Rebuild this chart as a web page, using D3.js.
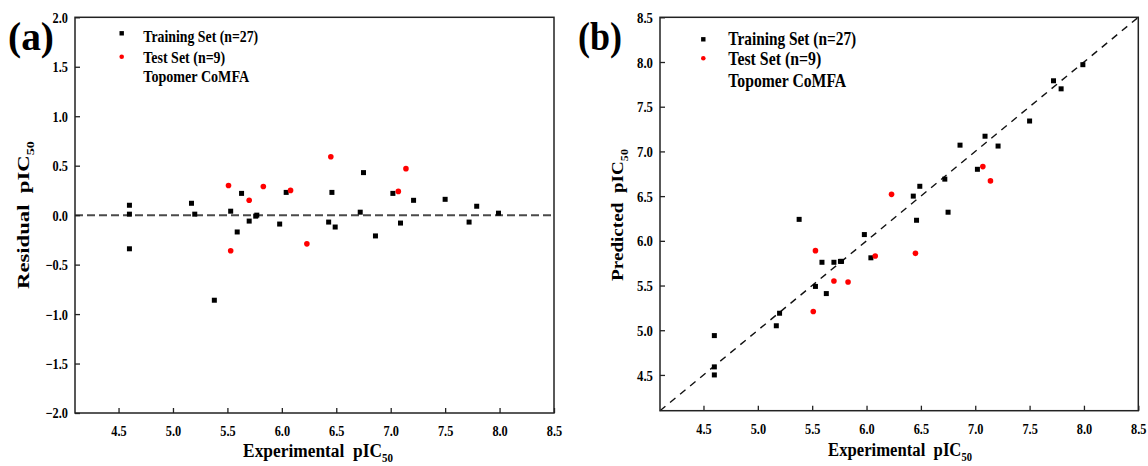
<!DOCTYPE html>
<html>
<head>
<meta charset="utf-8">
<script src="https://cdn.jsdelivr.net/npm/d3@7"></script>
<style>
  body { margin: 0; background: #fff; }
  svg { display: block; }
  text { font-family: "Liberation Serif", "Times New Roman", serif; font-weight: bold; fill: #000; }
</style>
</head>
<body>
<svg id="chart" width="1148" height="466"></svg>
<script>
// Training set: experimental pIC50, residual, predicted pIC50
const trainExp  = [4.60, 4.60, 4.60, 5.17, 5.20, 5.38, 5.53, 5.63, 5.59, 5.70, 5.76, 5.77, 5.98, 6.04,
                   6.43, 6.46, 6.49, 6.75, 6.72, 6.86, 7.02, 7.09, 7.21, 7.50, 7.72, 7.79, 7.99];
const trainRes  = [0.10, 0.01, -0.34, 0.12, 0.01, -0.86, 0.04, 0.22, -0.17, -0.06, -0.01, 0.00, -0.09, 0.23,
                   -0.07, 0.23, -0.12, 0.43, 0.03, -0.21, 0.22, -0.08, 0.15, 0.16, -0.07, 0.09, 0.02];
const trainPred = [4.50, 4.59, 4.94, 5.05, 5.19, 6.24, 5.49, 5.41, 5.76, 5.76, 5.77, 5.77, 6.07, 5.81,
                   6.50, 6.23, 6.61, 6.32, 6.69, 7.07, 6.80, 7.17, 7.06, 7.34, 7.79, 7.70, 7.97];

// Test set
const testExp  = [5.51, 5.53, 5.70, 5.83, 6.08, 6.23, 6.45, 7.07, 7.14];
const testRes  = [0.30, -0.36, 0.15, 0.29, 0.25, -0.29, 0.59, 0.24, 0.47];
const testPred = [5.21, 5.89, 5.55, 5.54, 5.83, 6.52, 5.86, 6.83, 6.67];

// Axis ticks
const expTicks  = [4.5, 5.0, 5.5, 6.0, 6.5, 7.0, 7.5, 8.0, 8.5];
const resTicks  = [-2.0, -1.5, -1.0, -0.5, 0.0, 0.5, 1.0, 1.5, 2.0];
const predTicks = [4.5, 5.0, 5.5, 6.0, 6.5, 7.0, 7.5, 8.0, 8.5];

const legendLabels = ["Training Set (n=27)", "Test Set (n=9)", "Topomer CoMFA"];

const svg = d3.select("#chart");
const fmt = d3.format(".1f");
const SQ = 0.85;   // narrow serif look for tick labels

// turn x/y placement into a transform so glyphs can be narrowed horizontally
function squeeze(sel, c) {
  sel.each(function () {
    const t = d3.select(this);
    const x = +t.attr("x") || 0, y = +t.attr("y") || 0;
    t.attr("x", null).attr("y", null)
     .attr("transform", `translate(${x},${y}) scale(${c},1)`);
  });
}

// stretch or narrow a text (drawn at the origin) to a given run length
function fitLength(t, len, place, across = 1) {
  const w = t.node().getBBox().width;
  t.attr("transform", `${place} scale(${len / w},${across})`);
}

function drawPanel(cfg) {
  const g = svg.append("g");
  const x = d3.scaleLinear().domain([4.1, 8.5]).range([cfg.left, cfg.right]);
  const y = d3.scaleLinear().domain(cfg.yDomain).range([cfg.bottom, cfg.top]);

  // reference line
  if (cfg.kind === "residual") {
    g.append("line")
      .attr("x1", x(4.1)).attr("x2", x(8.5))
      .attr("y1", y(0)).attr("y2", y(0))
      .attr("stroke", "#4a4a4a").attr("stroke-width", 2)
      .attr("stroke-dasharray", "8,4");
  } else {
    g.append("line")
      .attr("x1", x(4.1)).attr("y1", y(4.1))
      .attr("x2", x(8.5)).attr("y2", y(8.5))
      .attr("stroke", "#111").attr("stroke-width", 1.4)
      .attr("stroke-dasharray", "7,6");
  }

  // x axis
  const xa = g.append("g").attr("transform", `translate(0,${cfg.bottom})`)
    .call(d3.axisBottom(x).tickValues(expTicks).tickFormat(fmt).tickSizeInner(-5).tickSizeOuter(0).tickPadding(0));
  xa.select(".domain").remove();
  xa.selectAll(".tick line").attr("stroke", "#222").attr("stroke-width", 1.3);
  xa.selectAll(".tick text").attr("dy", null).attr("y", cfg.xLabelBase - cfg.bottom)
    .style("font-size", "14.5px").style("font-family", null);
  squeeze(xa.selectAll(".tick text"), SQ);

  // y axis
  const ya = g.append("g").attr("transform", `translate(${cfg.left},0)`)
    .call(d3.axisLeft(y).tickValues(cfg.yTicks).tickFormat(fmt).tickSizeInner(-5).tickSizeOuter(0).tickPadding(0));
  ya.select(".domain").remove();
  ya.selectAll(".tick line").attr("stroke", "#222").attr("stroke-width", 1.3);
  ya.selectAll(".tick text").attr("x", -7).attr("dy", "0.34em")
    .style("font-size", cfg.yTickFont).style("font-family", null);
  squeeze(ya.selectAll(".tick text"), SQ);

  // frame
  g.append("rect")
    .attr("x", cfg.left).attr("y", cfg.top)
    .attr("width", cfg.right - cfg.left).attr("height", cfg.bottom - cfg.top)
    .attr("fill", "none").attr("stroke", "#222").attr("stroke-width", 1.5);

  // points
  const yTrain = cfg.kind === "residual" ? trainRes : trainPred;
  const yTest  = cfg.kind === "residual" ? testRes : testPred;
  g.append("g").selectAll("rect").data(trainExp.map((d, i) => [d, yTrain[i]])).join("rect")
    .attr("x", d => x(d[0]) - 2.5).attr("y", d => y(d[1]) - 2.5)
    .attr("width", 5).attr("height", 5).attr("fill", "#000");
  g.append("g").selectAll("circle").data(testExp.map((d, i) => [d, yTest[i]])).join("circle")
    .attr("cx", d => x(d[0])).attr("cy", d => y(d[1])).attr("r", 2.8).attr("fill", "#f00");

  // legend
  const lg = g.append("g");
  lg.append("rect").attr("x", cfg.legX - 2.2).attr("y", cfg.legMarkY[0] - 2.2)
    .attr("width", 4.4).attr("height", 4.4).attr("fill", "#000");
  lg.append("circle").attr("cx", cfg.legX).attr("cy", cfg.legMarkY[1]).attr("r", 2.3).attr("fill", "#f00");
  legendLabels.forEach((label, i) => {
    const t = lg.append("text").style("font-size", cfg.legFont).text(label);
    fitLength(t, cfg.legLen[i], `translate(${cfg.legTextX},${cfg.legBase[i]})`);
  });

  // panel tag
  const tag = g.append("text").style("font-size", "40px").text(cfg.tag);
  fitLength(tag, cfg.tagLen, `translate(${cfg.tagX},50)`);

  // x title
  const xt = g.append("text").attr("text-anchor", "middle")
    .style("font-size", "19px").style("white-space", "pre");
  xt.append("tspan").text("Experimental  pIC");
  xt.append("tspan").text("50").attr("dy", 5).style("font-size", "12px");
  fitLength(xt, cfg.xTitleLen, `translate(${cfg.xTitleX},${cfg.xTitleBase})`);

  // y title
  const yt = g.append("text").attr("text-anchor", "middle")
    .style("font-size", "19px").style("white-space", "pre");
  yt.append("tspan").text(cfg.yTitle);
  yt.append("tspan").text("50").attr("dy", 5).style("font-size", "12px");
  fitLength(yt, cfg.yTitleLen, `translate(${cfg.yTitleX},${cfg.yTitleY}) rotate(-90)`, 0.9);
}

drawPanel({
  kind: "residual", tag: "(a)", tagX: 8, tagLen: 46,
  left: 75, right: 554, top: 17.3, bottom: 413,
  yDomain: [-2, 2], yTicks: resTicks, yTickFont: "14.5px",
  xLabelBase: 436, xTitleX: 318, xTitleBase: 457, xTitleLen: 150,
  yTitleX: 29, yTitleY: 215, yTitleLen: 148, yTitle: "Residual  pIC",
  legX: 121.7, legMarkY: [33.3, 56.7], legTextX: 143.3, legBase: [42, 63, 82],
  legFont: "16.5px", legLen: [115, 82, 106]
});

drawPanel({
  kind: "predicted", tag: "(b)", tagX: 578, tagLen: 44,
  left: 660, right: 1138.3, top: 17.3, bottom: 410.7,
  yDomain: [4.1, 8.5], yTicks: predTicks, yTickFont: "15px",
  xLabelBase: 434, xTitleX: 900, xTitleBase: 456, xTitleLen: 144,
  yTitleX: 623, yTitleY: 215, yTitleLen: 132, yTitle: "Predicted  pIC",
  legX: 703.3, legMarkY: [39.3, 58.3], legTextX: 728.3, legBase: [45, 64.5, 86.5],
  legFont: "18px", legLen: [128, 93, 118]
});
</script>
</body>
</html>
